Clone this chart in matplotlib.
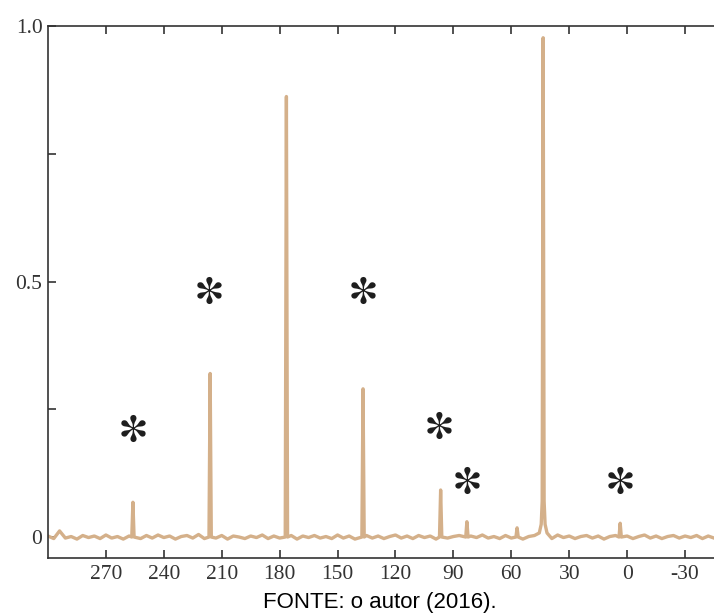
import numpy as np
import matplotlib.pyplot as plt

plt.rcParams['mathtext.fontset'] = 'stix'

# peaks (ppm, relative intensity)
peak_ppm = [256.0, 216.0, 176.5, 136.8, 96.6, 83.0, 57.0, 43.5, 3.6]
peak_height = [0.068, 0.32, 0.862, 0.29, 0.092, 0.030, 0.018, 0.977, 0.027]

# baseline wiggle, 300 -> -45 ppm
noise_val = [
    0.002, -0.003, 0.012, -0.002, 0.001, -0.004, 0.003, -0.001, 0.002, -0.003, 0.004, -0.002,
    0.001, -0.004, 0.002, 0.000, -0.003, 0.003, -0.002, 0.004, -0.001, 0.002, -0.004, 0.001,
    0.003, -0.002, 0.005, -0.003, 0.001, -0.002, 0.003, -0.004, 0.002, 0.000, -0.003, 0.002,
    -0.001, 0.004, -0.003, 0.002, -0.002, 0.001, 0.003, -0.004, 0.002, -0.001, 0.003, -0.002,
    0.001, -0.003, 0.004, -0.002, 0.002, -0.004, 0.001, 0.003, -0.002, 0.002, -0.003, 0.001,
    0.004, -0.002, 0.002, -0.003, 0.003, -0.001, 0.002, -0.004, 0.003, -0.002, 0.001, 0.003,
    -0.003, 0.002, -0.001, 0.004, -0.002, 0.001, -0.003, 0.003, -0.002, 0.002, -0.004, 0.001,
    0.003, -0.002, 0.002, -0.003, 0.004, -0.001, 0.002, -0.003, 0.001, 0.003, -0.002, 0.002,
    -0.004, 0.001, 0.003, -0.002, 0.002, -0.003, 0.001, 0.004, -0.002, 0.002, -0.003, 0.001,
    0.003, -0.002, 0.002, -0.001, 0.003, -0.003, 0.002, -0.002,
]
noise_ppm = np.linspace(300, -45, len(noise_val))

# spinning sidebands marked with *
ast_ppm = [256.0, 216.6, 136.8, 97.4, 82.9, 3.6]
ast_y = [0.213, 0.483, 0.483, 0.219, 0.112, 0.112]

xticks = [270, 240, 210, 180, 150, 120, 90, 60, 30, 0, -30]

# build the trace: baseline points away from peaks + peak vertices
keep = np.ones(len(noise_ppm), bool)
for p in peak_ppm:
    keep &= np.abs(noise_ppm - p) > (2.5 if p == 43.5 else 1.2)
xs = list(noise_ppm[keep])
ys = list(np.array(noise_val)[keep])
for p, h in zip(peak_ppm, peak_height):
    if p == 43.5:
        xs += [p + 2, p + 1, p + 0.5, p, p - 0.5, p - 1, p - 2]
        ys += [0.008, 0.025, 0.070, h, 0.070, 0.025, 0.008]
    else:
        xs += [p + 0.6, p, p - 0.6]
        ys += [0.0, h, 0.0]
order = np.argsort(xs)[::-1]
xs = np.array(xs)[order]
ys = np.array(ys)[order]

fig = plt.figure(figsize=(7.14, 6.15), dpi=100)
ax = fig.add_axes([0.0672, 0.0927, 0.9328, 0.865])

ax.plot(xs, ys, color='#D4B08A', lw=2.4, solid_joinstyle='round')
ax.scatter(ast_ppm, ast_y, marker=r'$\mathbf{*}$', s=380, color='#1e1e1e', linewidths=0)

ax.set_xlim(300, -45)
ax.set_ylim(-0.041, 1.0)
ax.set_xticks(xticks)
ax.set_xticklabels([str(t) for t in xticks])
ax.set_yticks([0, 0.5, 1.0])
ax.set_yticklabels(['0', '0.5', '1.0'])
ax.set_yticks([0.25, 0.75], minor=True)

ax.spines['right'].set_visible(False)
for s in ['left', 'top', 'bottom']:
    ax.spines[s].set_color('#333333')
    ax.spines[s].set_linewidth(1.2)

ax.tick_params(axis='both', which='both', direction='in', length=6, width=1.2, color='#333333',
               labelsize=15.5, labelcolor='#333333')
ax.tick_params(axis='x', top=True, pad=5)
ax.tick_params(axis='y', pad=4)
for lab in ax.get_xticklabels() + ax.get_yticklabels():
    lab.set_fontfamily('Liberation Serif')

fig.text(0.532, 0.0114, 'FONTE: o autor (2016).', ha='center', va='baseline',
         fontsize=16, family='Liberation Sans', color='black')

fig.savefig('out.png', dpi=100)
